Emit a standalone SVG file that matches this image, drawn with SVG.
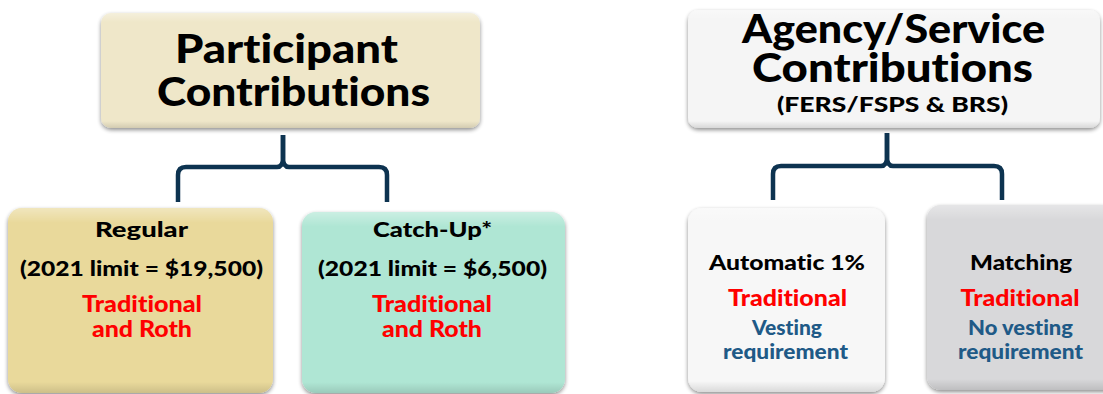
<svg xmlns="http://www.w3.org/2000/svg" width="1103" height="394" viewBox="0 0 1103 394">
<defs>
<filter id="sh" x="-10%" y="-10%" width="120%" height="125%">
<feGaussianBlur in="SourceAlpha" stdDeviation="2"/>
<feOffset dx="0" dy="2" result="b"/>
<feComponentTransfer><feFuncA type="linear" slope="0.45"/></feComponentTransfer>
<feMerge><feMergeNode/><feMergeNode in="SourceGraphic"/></feMerge>
</filter>
<linearGradient id="gl" x1="0" y1="0" x2="0" y2="1">
<stop offset="0" stop-color="#fff" stop-opacity="0.35"/>
<stop offset="0.08" stop-color="#fff" stop-opacity="0"/>
<stop offset="0.94" stop-color="#000" stop-opacity="0"/>
<stop offset="1" stop-color="#000" stop-opacity="0.12"/>
</linearGradient>
</defs>
<style>
text{font-family:Lato,"Open Sans",sans-serif;font-weight:900;text-anchor:middle;font-variant-ligatures:none}
.h{font-size:40px;fill:#000}
.s{font-size:21px;fill:#000}
.r{font-size:22px;fill:#ff0000}
.b{font-size:20px;fill:#1f5a87}
.brace{fill:none;stroke:#0d3350;stroke-width:4.5;stroke-linejoin:round}
</style>
<rect width="1103" height="394" fill="#fff"/>
<g id="connectors">
<path class="brace" d="M283,135 V158 Q283,167 277,167 H186 Q178,167 178,175 V202"/>
<path class="brace" d="M283,135 V158 Q283,167 289,167 H379 Q387,167 387,175 V202"/>
<path class="brace" d="M887,133 V157 Q887,166 881,166 H781 Q773,166 773,174 V200"/>
<path class="brace" d="M887,133 V157 Q887,166 893,166 H994 Q1002,166 1002,174 V200"/>
</g>
<g id="participant">
<rect x="101" y="13" width="379" height="115" rx="10" fill="#efe7c9" filter="url(#sh)"/>
<rect x="101" y="13" width="379" height="115" rx="10" fill="url(#gl)"/>
<text class="h" x="286.5" y="63" textLength="223" lengthAdjust="spacingAndGlyphs">Participant</text>
<text class="h" x="293.5" y="106" textLength="273" lengthAdjust="spacingAndGlyphs">Contributions</text>
</g>
<g id="agency">
<rect x="688" y="10" width="412" height="118" rx="10" fill="#f5f5f5" filter="url(#sh)"/>
<rect x="688" y="10" width="412" height="118" rx="10" fill="url(#gl)"/>
<text class="h" x="893.5" y="43" textLength="303" lengthAdjust="spacingAndGlyphs">Agency/Service</text>
<text class="h" x="892.5" y="82" textLength="281" lengthAdjust="spacingAndGlyphs">Contributions</text>
<text x="892.5" y="112" style="font-size:20px" textLength="231" lengthAdjust="spacingAndGlyphs">(FERS/FSPS &amp; BRS)</text>
</g>
<g id="regular">
<rect x="8" y="208" width="265" height="185" rx="14" fill="#e9d99b" filter="url(#sh)"/>
<rect x="8" y="208" width="265" height="185" rx="14" fill="url(#gl)"/>
<text class="s" x="141.5" y="237" textLength="93" lengthAdjust="spacingAndGlyphs">Regular</text>
<text class="s" x="141.5" y="276" textLength="243" lengthAdjust="spacingAndGlyphs">(2021 limit = $19,500)</text>
<text class="r" x="142" y="312" textLength="120" lengthAdjust="spacingAndGlyphs">Traditional</text>
<text class="r" x="142" y="337" textLength="100" lengthAdjust="spacingAndGlyphs">and Roth</text>
</g>
<g id="catchup">
<rect x="302" y="212" width="263" height="181" rx="14" fill="#afe6d4" filter="url(#sh)"/>
<rect x="302" y="212" width="263" height="181" rx="14" fill="url(#gl)"/>
<text class="s" x="432.5" y="237" textLength="119" lengthAdjust="spacingAndGlyphs">Catch-Up*</text>
<text class="s" x="432.5" y="276" textLength="229" lengthAdjust="spacingAndGlyphs">(2021 limit = $6,500)</text>
<text class="r" x="432" y="312" textLength="120" lengthAdjust="spacingAndGlyphs">Traditional</text>
<text class="r" x="432" y="337" textLength="100" lengthAdjust="spacingAndGlyphs">and Roth</text>
</g>
<g id="automatic">
<rect x="688" y="208" width="197" height="184" rx="14" fill="#f7f7f7" filter="url(#sh)"/>
<rect x="688" y="208" width="197" height="184" rx="14" fill="url(#gl)"/>
<text class="s" x="787" y="270" textLength="156" lengthAdjust="spacingAndGlyphs">Automatic 1%</text>
<text class="r" x="787.5" y="306" textLength="119" lengthAdjust="spacingAndGlyphs">Traditional</text>
<text class="b" x="787" y="335" textLength="70" lengthAdjust="spacingAndGlyphs">Vesting</text>
<text class="b" x="785.5" y="359" textLength="125" lengthAdjust="spacingAndGlyphs">requirement</text>
</g>
<g id="matching">
<rect x="927" y="205" width="190" height="185" rx="14" fill="#d8d8da" filter="url(#sh)"/>
<rect x="927" y="205" width="190" height="185" rx="14" fill="url(#gl)"/>
<text class="s" x="1021" y="270" textLength="102" lengthAdjust="spacingAndGlyphs">Matching</text>
<text class="r" x="1020" y="306" textLength="119" lengthAdjust="spacingAndGlyphs">Traditional</text>
<text class="b" x="1020.5" y="335" textLength="105" lengthAdjust="spacingAndGlyphs">No vesting</text>
<text class="b" x="1020.5" y="359" textLength="125" lengthAdjust="spacingAndGlyphs">requirement</text>
</g>
</svg>
